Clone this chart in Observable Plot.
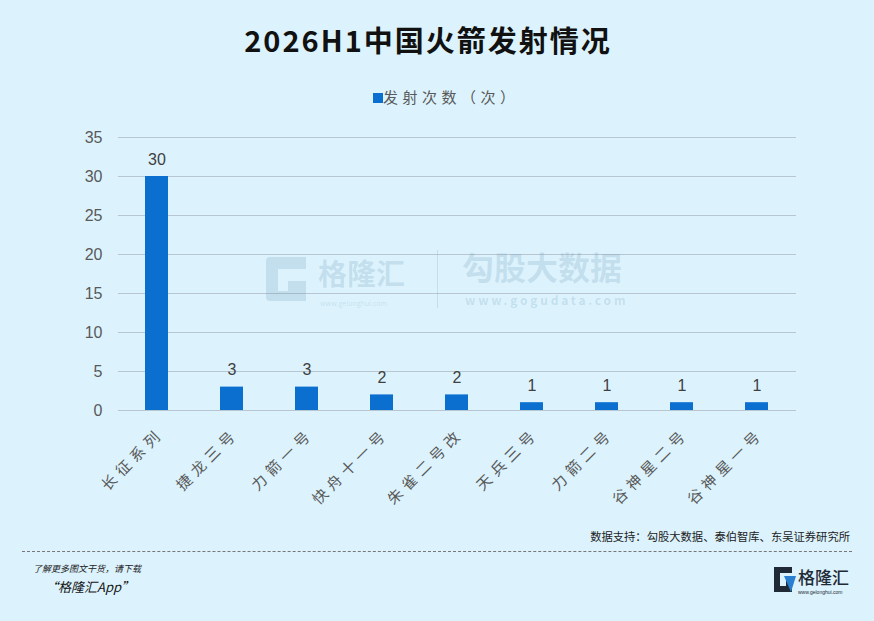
<!DOCTYPE html>
<html>
<head>
<meta charset="utf-8">
<script src="https://cdn.jsdelivr.net/npm/d3@7"></script>
<script src="https://cdn.jsdelivr.net/npm/@observablehq/plot@0.6"></script>
<style>
  html, body { margin: 0; padding: 0; background: #dcf3fd; }
  #page { position: relative; width: 874px; height: 621px; background: #dcf3fd; overflow: hidden;
          font-family: "Liberation Sans", "Noto Sans CJK SC", sans-serif; }
  .abs { position: absolute; white-space: nowrap; line-height: 1.2; }
  #title { left: 0; width: 856px; top: 22px; text-align: center; font-family: "Noto Sans CJK SC"; font-weight: 700; font-size: 29px; letter-spacing: 2px; color: #111; }
  #legend { left: 373px; top: 88px; font-family: "Noto Sans CJK SC"; font-size: 15px; color: #595959; letter-spacing: 4.5px; }
  #legend .sw { display: inline-block; width: 10px; height: 10px; background: #0b6fd0; margin-right: 0px; vertical-align: 0px; }
  #chart { left: 0; top: 110px; }
  #chart g[aria-label="x-axis tick label"] text { letter-spacing: 5px; }
  #source { right: 24px; top: 530px; font-family: "Noto Sans CJK SC"; font-size: 11.3px; color: #222; }
  #dash { left: 22px; top: 551px; width: 830px; border-top: 1px dashed #777; height: 0; }
  #f1 { left: 33px; top: 564px; font-family: "Noto Sans CJK SC"; font-size: 9px; font-style: italic; color: #222; }
  #f2 { left: 45px; top: 579px; font-family: "Noto Sans CJK SC"; font-size: 13px; font-style: italic; color: #111; }
  #logo { left: 772px; top: 563px; }
  .wm { color: rgba(110,150,180,0.22); font-family: "Noto Sans CJK SC"; font-weight: 700; line-height: 1; }
</style>
</head>
<body>
<div id="page">
  <div id="title" class="abs">2026H1中国火箭发射情况</div>
  <div id="legend" class="abs"><span class="sw"></span>发射次数（次）</div>
  <div id="chart" class="abs"></div>
  <svg class="abs" style="left:262px;top:255px" width="48" height="48" viewBox="0 0 48 48">
    <path d="M4 6 Q4 2 8 2 H44 V14 H16 V36 H26 V26 H44 V46 H8 Q4 46 4 42 Z" fill="rgba(110,150,180,0.22)"/>
  </svg>
  <div class="abs wm" style="left:318px;top:258px;font-size:29px;">格隆汇</div>
  <div class="abs wm" style="left:320px;top:300px;font-size:7px;font-weight:400;">www.gelonghui.com</div>
  <div class="abs" style="left:437px;top:250px;width:1px;height:58px;background:rgba(110,150,180,0.22);"></div>
  <div class="abs wm" style="left:462px;top:250px;font-size:32px;">勾股大数据</div>
  <div class="abs wm" style="left:465px;top:294px;font-size:12px;letter-spacing:2.8px;">www.gogudata.com</div>
  <div id="source" class="abs">数据支持：勾股大数据、泰伯智库、东吴证券研究所</div>
  <div id="dash" class="abs"></div>
  <div id="f1" class="abs">了解更多图文干货，请下载</div>
  <div id="f2" class="abs">“格隆汇App”</div>
  <div id="logo" class="abs">
    <svg width="80" height="34" viewBox="0 0 80 34">
      <path d="M2 4 H20 V10 H8 V23 H14 V17 H20 V29 H2 Z" fill="#1f2a36"/>
      <path d="M12 13 H24 L19 29 Z" fill="#2a7fd0"/>
      <text x="26" y="21" font-family="Noto Sans CJK SC" font-size="17" font-weight="500" fill="#1f2a36">格隆汇</text>
      <text x="26" y="31" font-family="Liberation Sans" font-size="5" fill="#1f2a36">www.gelonghui.com</text>
    </svg>
  </div>
</div>
<script>
const categories = ["长征系列", "捷龙三号", "力箭一号", "快舟十一号", "朱雀二号改", "天兵三号", "力箭二号", "谷神星二号", "谷神星一号"];
const launches = [30, 3, 3, 2, 2, 1, 1, 1, 1];
const yTicks = [0, 5, 10, 15, 20, 25, 30, 35];
const seriesName = "发射次数（次）";

const data = categories.map((c, i) => ({category: c, value: launches[i]}));

const chart = Plot.plot({
  width: 874,
  height: 400,
  marginLeft: 118,
  marginRight: 78,
  marginTop: 27,
  marginBottom: 100,
  style: {background: "transparent", fontFamily: "'Liberation Sans', 'Noto Sans CJK SC', sans-serif", overflow: "visible"},
  x: {domain: categories, paddingInner: 0.69, paddingOuter: 0.345},
  y: {domain: [0, 35]},
  marks: [
    Plot.gridY(yTicks, {stroke: "#b7c6d0", strokeOpacity: 1, strokeWidth: 1.2}),
    Plot.axisY(yTicks, {tickSize: 0, tickPadding: 16, fontSize: 16, fill: "#595959", label: null}),
    Plot.barY(data, {x: "category", y: "value", fill: "#0b6fd0"}),
    Plot.text(data, {x: "category", y: "value", text: d => String(d.value), dy: -17, fontSize: 16, fill: "#404040"}),
    Plot.axisX({tickSize: 0, tickRotate: -45, tickPadding: 21, dx: 4, fontSize: 15, fill: "#595959", label: null, fontFamily: "Noto Sans CJK SC"})
  ]
});
document.getElementById("chart").appendChild(chart);
</script>
</body>
</html>
